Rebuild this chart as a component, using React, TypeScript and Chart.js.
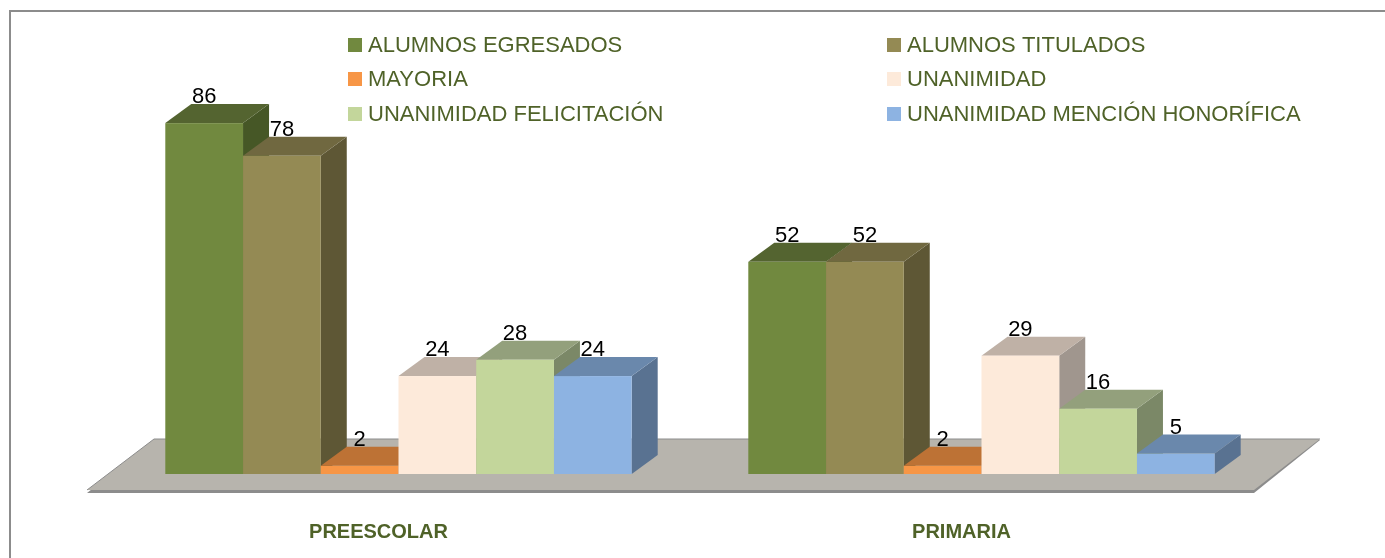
import React, { useEffect, useRef } from "react";
import { Chart, registerables } from "chart.js";

Chart.register(...registerables);

// ---- data ----
const categories = ["PREESCOLAR", "PRIMARIA"];
const seriesNames = [
  "ALUMNOS EGRESADOS",
  "ALUMNOS TITULADOS",
  "MAYORIA",
  "UNANIMIDAD",
  "UNANIMIDAD FELICITACIÓN",
  "UNANIMIDAD MENCIÓN HONORÍFICA",
];
const alumnosEgresados = [86, 52];
const alumnosTitulados = [78, 52];
const mayoria = [2, 2];
const unanimidad = [24, 29];
const unanimidadFelicitacion = [28, 16];
const unanimidadMencionHonorifica = [24, 5];

// ---- styles ----
const frontColors = ["#71893F", "#948A54", "#F79646", "#FDEADA", "#C3D69B", "#8DB3E2"];
const topColors = ["#546430", "#706840", "#BD7235", "#BFB1A6", "#93A07C", "#6A88AC"];
const sideColors = ["#465726", "#5E5735", "#A05F2D", "#A0968E", "#7B8867", "#597291"];
const DX = 26;
const DY = -19;
const FONT = "'Liberation Sans', Arial, sans-serif";
const TEXT_GREEN = "#4F6228";
const legendColX = [348, 887];
const legendRowY = [45, 79, 114];

function poly(ctx: CanvasRenderingContext2D, pts: number[][]) {
  ctx.beginPath();
  ctx.moveTo(pts[0][0], pts[0][1]);
  for (let k = 1; k < pts.length; k++) ctx.lineTo(pts[k][0], pts[k][1]);
  ctx.closePath();
}

const bar3d = {
  id: "bar3d",
  beforeDatasetsDraw(chart: any) {
    const ctx: CanvasRenderingContext2D = chart.ctx;
    const { left, right } = chart.chartArea;
    const y0 = chart.scales.y.getPixelForValue(0);
    const back = y0 - 35;
    const front = y0 + 16;
    const bl = left + 47, fl = left - 20, br = right + 47, fr = right - 19;
    ctx.save();
    // floor thickness
    ctx.fillStyle = "#8C8C8C";
    poly(ctx, [[bl, back + 1], [br, back + 1], [fr, front + 3], [fl, front + 3]]);
    ctx.fill();
    ctx.fillStyle = "#B7B4AD";
    poly(ctx, [[bl, back], [br, back], [fr, front], [fl, front]]);
    ctx.fill();
    ctx.strokeStyle = "#8C8C8C";
    ctx.lineWidth = 1;
    ctx.beginPath();
    ctx.moveTo(fl, front);
    ctx.lineTo(bl, back);
    ctx.lineTo(br, back);
    ctx.stroke();

    const n = chart.data.datasets.length;
    for (let j = 0; j < chart.data.labels.length; j++) {
      for (let i = 0; i < n; i++) {
        const el = chart.getDatasetMeta(i).data[j];
        if (!el) continue;
        const p = el.getProps(["x", "y", "base", "width"], true);
        const l = p.x - p.width / 2;
        const r = p.x + p.width / 2;
        const t = p.y;
        const b = p.base;
        // side
        ctx.fillStyle = sideColors[i];
        poly(ctx, [[r, t], [r + DX, t + DY], [r + DX, b + DY], [r, b]]);
        ctx.fill();
        // top
        ctx.fillStyle = topColors[i];
        poly(ctx, [[l, t], [l + DX, t + DY], [r + DX, t + DY], [r, t]]);
        ctx.fill();
        // front
        ctx.fillStyle = frontColors[i];
        ctx.fillRect(l, t, r - l, b - t);
      }
    }
    ctx.restore();
    return false;
  },
  afterDraw(chart: any) {
    const ctx: CanvasRenderingContext2D = chart.ctx;
    ctx.save();
    // data labels
    ctx.fillStyle = "#000000";
    ctx.font = `22px ${FONT}`;
    ctx.textAlign = "center";
    ctx.textBaseline = "middle";
    chart.data.datasets.forEach((ds: any, i: number) => {
      chart.getDatasetMeta(i).data.forEach((el: any, j: number) => {
        const p = el.getProps(["x", "y"], true);
        ctx.fillText(String(ds.data[j]), p.x, p.y + DY - 7);
      });
    });
    // legend
    ctx.textAlign = "left";
    chart.data.datasets.forEach((ds: any, i: number) => {
      const x = legendColX[i % 2];
      const y = legendRowY[Math.floor(i / 2)];
      ctx.fillStyle = frontColors[i];
      ctx.fillRect(x, y - 7, 14, 14);
      ctx.fillStyle = TEXT_GREEN;
      ctx.font = `22px ${FONT}`;
      ctx.fillText(ds.label, x + 20, y + 1);
    });
    ctx.restore();
  },
};

export default function App() {
  const ref = useRef<HTMLCanvasElement | null>(null);
  useEffect(() => {
    if (!ref.current) return;
    const series = [
      alumnosEgresados,
      alumnosTitulados,
      mayoria,
      unanimidad,
      unanimidadFelicitacion,
      unanimidadMencionHonorifica,
    ];
    const chart = new Chart(ref.current, {
      type: "bar",
      data: {
        labels: categories,
        datasets: series.map((d, i) => ({
          label: seriesNames[i],
          data: d,
          backgroundColor: frontColors[i],
          categoryPercentage: 0.8,
          barPercentage: 1.0,
        })),
      },
      options: {
        responsive: false,
        animation: false,
        layout: { padding: { left: 107, right: 112, top: 66, bottom: 14 } },
        plugins: { legend: { display: false }, tooltip: { enabled: false } },
        scales: {
          x: {
            grid: { display: false, drawTicks: false },
            border: { display: false },
            ticks: {
              color: TEXT_GREEN,
              font: { family: FONT, size: 20, weight: "bold" },
              padding: 46,
              labelOffset: -20,
            },
            afterFit: (scale: any) => {
              scale.height = 70;
            },
          },
          y: { display: false, min: 0, max: 100 },
        },
      },
      plugins: [bar3d],
    });
    return () => chart.destroy();
  }, []);

  return (
    <div style={{ position: "absolute", left: 0, top: 0, width: 1385, height: 558, background: "#fff", overflow: "hidden" }}>
      <canvas ref={ref} width={1385} height={558} style={{ display: "block", position: "absolute", left: 0, top: 0 }} />
      <div
        style={{
          position: "absolute",
          left: 9,
          top: 10,
          width: 1400,
          height: 600,
          borderTop: "2px solid #8C8C8C",
          borderLeft: "2px solid #8C8C8C",
          pointerEvents: "none",
        }}
      />
    </div>
  );
}
